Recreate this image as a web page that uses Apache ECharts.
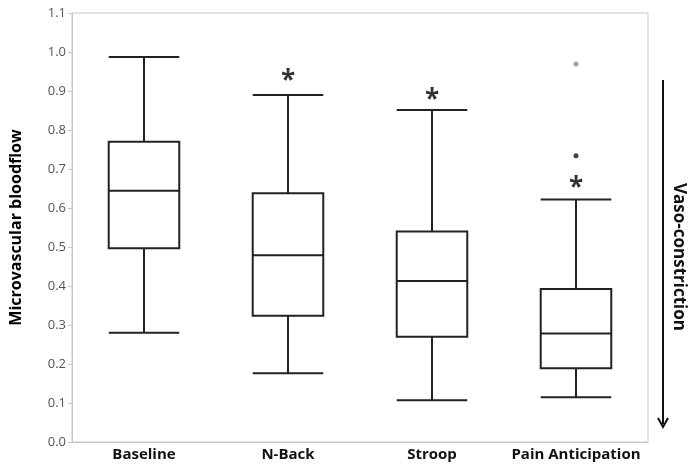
<!DOCTYPE html>
<html>
<head>
<meta charset="utf-8">
<script src="https://cdn.jsdelivr.net/npm/echarts@6/dist/echarts.min.js"></script>
<style>
  html, body { margin: 0; padding: 0; background: #fff; }
  #chart { width: 698px; height: 466px; }
</style>
</head>
<body>
<div id="chart"></div>
<script>
// categories and box stats: [min, Q1, median, Q3, max]
const categories = ['Baseline', 'N-Back', 'Stroop', 'Pain Anticipation']
const boxStats = [
  [0.280, 0.497, 0.644, 0.770, 0.987],
  [0.176, 0.324, 0.479, 0.638, 0.890],
  [0.107, 0.270, 0.413, 0.540, 0.851],
  [0.115, 0.189, 0.278, 0.392, 0.622],
]
// outliers for Pain Anticipation
const outliersBlack = [['Pain Anticipation', 0.734]]
const outliersGray = [['Pain Anticipation', 0.969]]
// significance markers (asterisk position)
const starMarks = [['N-Back', 0.938], ['Stroop', 0.889], ['Pain Anticipation', 0.663]]
const yTicks = { min: 0, max: 1.1, interval: 0.1 }

const font = '"Open Sans", "Noto Sans", sans-serif'
const chart = echarts.init(document.getElementById('chart'))

const option = {
  animation: false,
  grid: {
    left: 62,
    right: 50,
    top: 13,
    bottom: 24,
    show: true,
    borderColor: '#c8c8c8',
    borderWidth: 1,
  },
  xAxis: {
    type: 'category',
    data: categories,
    boundaryGap: true,
    axisLine: { lineStyle: { color: '#c8c8c8', width: 1 } },
    axisTick: { show: false },
    axisLabel: {
      interval: 0,
      color: '#111',
      fontWeight: 'bold',
      fontSize: 15,
      fontFamily: font,
      margin: 5,
    },
  },
  yAxis: {
    type: 'value',
    min: yTicks.min,
    max: yTicks.max,
    interval: yTicks.interval,
    name: 'Microvascular bloodflow',
    nameLocation: 'middle',
    nameGap: 48,
    nameTextStyle: {
      color: '#000',
      fontWeight: 'bold',
      fontSize: 16,
      fontFamily: font,
    },
    axisLine: { show: true, lineStyle: { color: '#c8c8c8', width: 1 } },
    axisTick: { show: true, length: 4, lineStyle: { color: '#c8c8c8' } },
    axisLabel: {
      color: '#555',
      fontSize: 13,
      fontFamily: font,
      margin: 6,
      formatter: (v) => v.toFixed(1),
    },
    splitLine: { show: false },
  },
  series: [
    {
      type: 'boxplot',
      data: boxStats,
      boxWidth: ['49%', '49%'],
      itemStyle: {
        color: '#fff',
        borderColor: '#222',
        borderWidth: 2,
      },
      emphasis: { disabled: true },
      z: 3,
    },
    {
      type: 'scatter',
      data: outliersBlack,
      symbol: 'circle',
      symbolSize: 5,
      itemStyle: { color: '#111' },
      z: 4,
    },
    {
      type: 'scatter',
      data: outliersGray,
      symbol: 'circle',
      symbolSize: 5,
      itemStyle: { color: '#888' },
      z: 4,
    },
    {
      type: 'scatter',
      data: starMarks,
      symbolSize: 1,
      itemStyle: { color: 'rgba(0,0,0,0)' },
      label: {
        show: true,
        position: 'inside',
        formatter: '*',
        color: '#000',
        fontSize: 26,
        fontWeight: 'bold',
        fontFamily: font,
        offset: [0, 5],
      },
      z: 5,
    },
  ],
  graphic: [
    {
      type: 'line',
      shape: { x1: 663, y1: 80, x2: 663, y2: 424 },
      style: { stroke: '#111', lineWidth: 2 },
    },
    {
      type: 'polyline',
      shape: { points: [[658, 418], [663, 427], [668, 418]] },
      style: { stroke: '#111', lineWidth: 2, fill: null },
    },
    {
      type: 'text',
      x: 679,
      y: 257,
      rotation: -Math.PI / 2,
      style: {
        text: 'Vaso-constriction',
        fill: '#111',
        font: 'bold 17px ' + font,
        align: 'center',
        verticalAlign: 'middle',
      },
    },
  ],
}

chart.setOption(option)
</script>
</body>
</html>
